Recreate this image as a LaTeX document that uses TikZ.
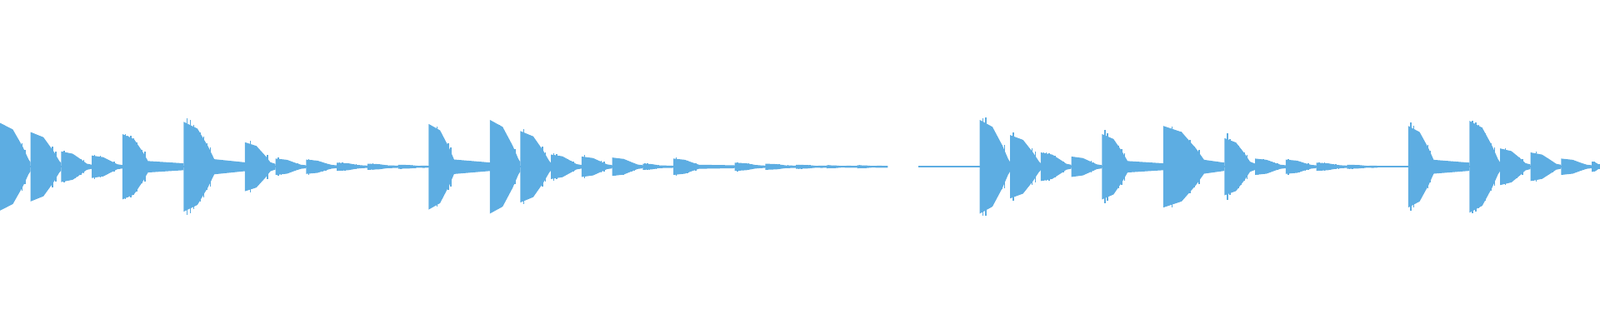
\documentclass[tikz,border=0pt]{standalone}
\definecolor{wave}{RGB}{93,173,226}
\begin{document}
\begin{tikzpicture}[x=0.01cm,y=0.01cm]
\useasboundingbox (0,0) rectangle (1568,327);
\coordinate (c) at (0,163.5);
\draw[wave,line width=0.6pt] (0,163.5) -- (870,163.5);
\draw[wave,line width=0.6pt] (900,163.5) -- (1568,163.5);
\foreach \x/\a/\d/\L in {0/43/28/30,30/34/28/30,60/15/25/30,90/11/25/30,120/32/25/60,180/44/30/60,240/24/25/30,270/8/25/30,300/7/25/30,330/4/25/30,360/3/25/30,390/2/25/30,420/42/25/60,480/46/28/30,510/35/28/30,540/12/25/30,570/10/25/30,600/9/25/30,630/3/20/30,660/8/25/60,720/4/25/30,750/3/25/30,780/2/25/30,810/1.5/20/30,840/1.5/20/30,960/46/28/30,990/31/28/30,1020/14/25/30,1050/10/25/30,1080/32/25/60,1140/40/40/60,1200/28/25/30,1230/8/25/30,1260/7/25/30,1290/4/25/30,1320/2/25/30,1380/40/25/60,1440/45/28/30,1470/18/25/30,1500/14/25/30,1530/8/25/30,1560/5/8/8}
{
  \fill[wave] (\x,163.5+\a) -- (\x+0.45*\d,163.5+0.85*\a) -- (\x+0.8*\d,163.5+0.45*\a) -- (\x+\d,163.5+0.15*\a+0.8) -- (\x+\L,163.5+0.08*\a+0.8)
    -- (\x+\L,163.5-0.08*\a-0.8) -- (\x+\d,163.5-0.15*\a-0.8) -- (\x+0.8*\d,163.5-0.45*\a) -- (\x+0.45*\d,163.5-0.85*\a) -- (\x,163.5-\a) -- cycle;
  \foreach \k in {1,...,8}{
    \pgfmathsetmacro\xx{\x+\k*0.11*\d}
    \pgfmathsetmacro\hh{\a*(1.05-\k*0.08)*(0.9+0.3*rnd)}
    \draw[wave,line width=0.35pt] (\xx,163.5+\hh) -- (\xx,163.5-\hh);
  }
}
\end{tikzpicture}
\end{document}
